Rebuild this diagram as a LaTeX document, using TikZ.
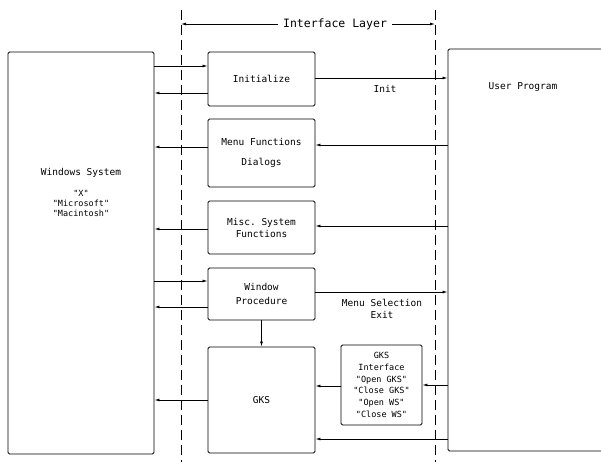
\documentclass[tikz,border=0pt]{standalone}
\usepackage{fontspec}
\setmonofont{DejaVu Sans Mono}
\usetikzlibrary{arrows.meta}
\tikzset{
  box/.style={draw, line width=0.9pt, rounded corners=1.5pt, inner sep=0pt, align=center, font=\ttfamily\fontsize{9.5}{12}\selectfont},
  lbl/.style={inner sep=0pt, align=center, font=\ttfamily\fontsize{9.5}{12}\selectfont},
  arr/.style={line width=0.8pt, -{Latex[length=5pt,width=3pt]}},
  sep/.style={line width=0.8pt, dash pattern=on 10pt off 5pt}
}
\begin{document}
\begin{tikzpicture}[x=1pt,y=-1pt]
\useasboundingbox (0,0) rectangle (601,462);
% dashed layer boundaries
\coordinate (dlt) at (181,10);
\coordinate (dlb) at (181,462);
\coordinate (drt) at (435,10);
\coordinate (drb) at (435,462);
\draw[sep] (dlt) -- (dlb);
\draw[sep] (drt) -- (drb);
% interface layer label
\node[lbl, font=\ttfamily\fontsize{11.5}{14}\selectfont] (ilayer) at (335,24) {Interface Layer};
\coordinate (ilL) at (181,24);
\coordinate (ilR) at (435,24);
\draw[arr] (ilayer.west) ++(-5,0) -- (ilL);
\draw[arr] (ilayer.east) ++(5,0) -- (ilR);
% boxes
\node[box, minimum width=146, minimum height=402] (win) at (81,253) {};
\node[lbl] (wintxt) at (81,173) {Windows System};
\node[lbl, font=\ttfamily\fontsize{8.5}{10}\selectfont] (winsub) at (81,203) {"X"\\"Microsoft"\\"Macintosh"};
\node[box, minimum width=160, minimum height=402] (user) at (528,250) {};
\node[lbl] (usertxt) at (523,87) {User Program};
\node[box, minimum width=107, minimum height=54] (init) at (261.5,79) {Initialize};
\node[box, minimum width=107, minimum height=68] (menu) at (261.5,153) {Menu Functions\\[8pt]Dialogs};
\node[box, minimum width=107, minimum height=53] (misc) at (261.5,227.5) {Misc. System\\Functions};
\node[box, minimum width=107, minimum height=52] (wp) at (261.5,294) {Window\\[2pt]Procedure};
\node[box, minimum width=107, minimum height=106] (gks) at (261.5,400) {GKS};
\node[box, minimum width=81, minimum height=80, font=\ttfamily\fontsize{8.5}{11.8}\selectfont] (gksi) at (381.5,385) {GKS\\Interface\\"Open GKS"\\"Close GKS"\\"Open WS"\\"Close WS"};
% connectors
\draw[arr] (win.east |- 0,66) -- (init.west |- 0,66);
\draw[arr] (init.west |- 0,93) -- (win.east |- 0,93);
\draw[arr] (init.east |- 0,78) -- (user.west |- 0,78);
\node[lbl] (initlbl) at (385,89) {Init};
\draw[arr] (user.west |- 0,145) -- (menu.east |- 0,145);
\draw[arr] (menu.west |- 0,147) -- (win.east |- 0,147);
\draw[arr] (user.west |- 0,226) -- (misc.east |- 0,226);
\draw[arr] (misc.west |- 0,229) -- (win.east |- 0,229);
\draw[arr] (win.east |- 0,281) -- (wp.west |- 0,281);
\draw[arr] (wp.west |- 0,307) -- (win.east |- 0,307);
\draw[arr] (wp.east |- 0,292) -- (user.west |- 0,292);
\node[lbl] (msel) at (382,308.5) {Menu Selection\\Exit};
\draw[arr] (wp.south) -- (gks.north);
\draw[arr] (gks.west |- 0,400) -- (win.east |- 0,400);
\draw[arr] (gksi.west |- 0,386) -- (gks.east |- 0,386);
\draw[arr] (user.west |- 0,385) -- (gksi.east |- 0,385);
\draw[arr] (user.west |- 0,439) -- (gks.east |- 0,439);
\end{tikzpicture}
\end{document}
